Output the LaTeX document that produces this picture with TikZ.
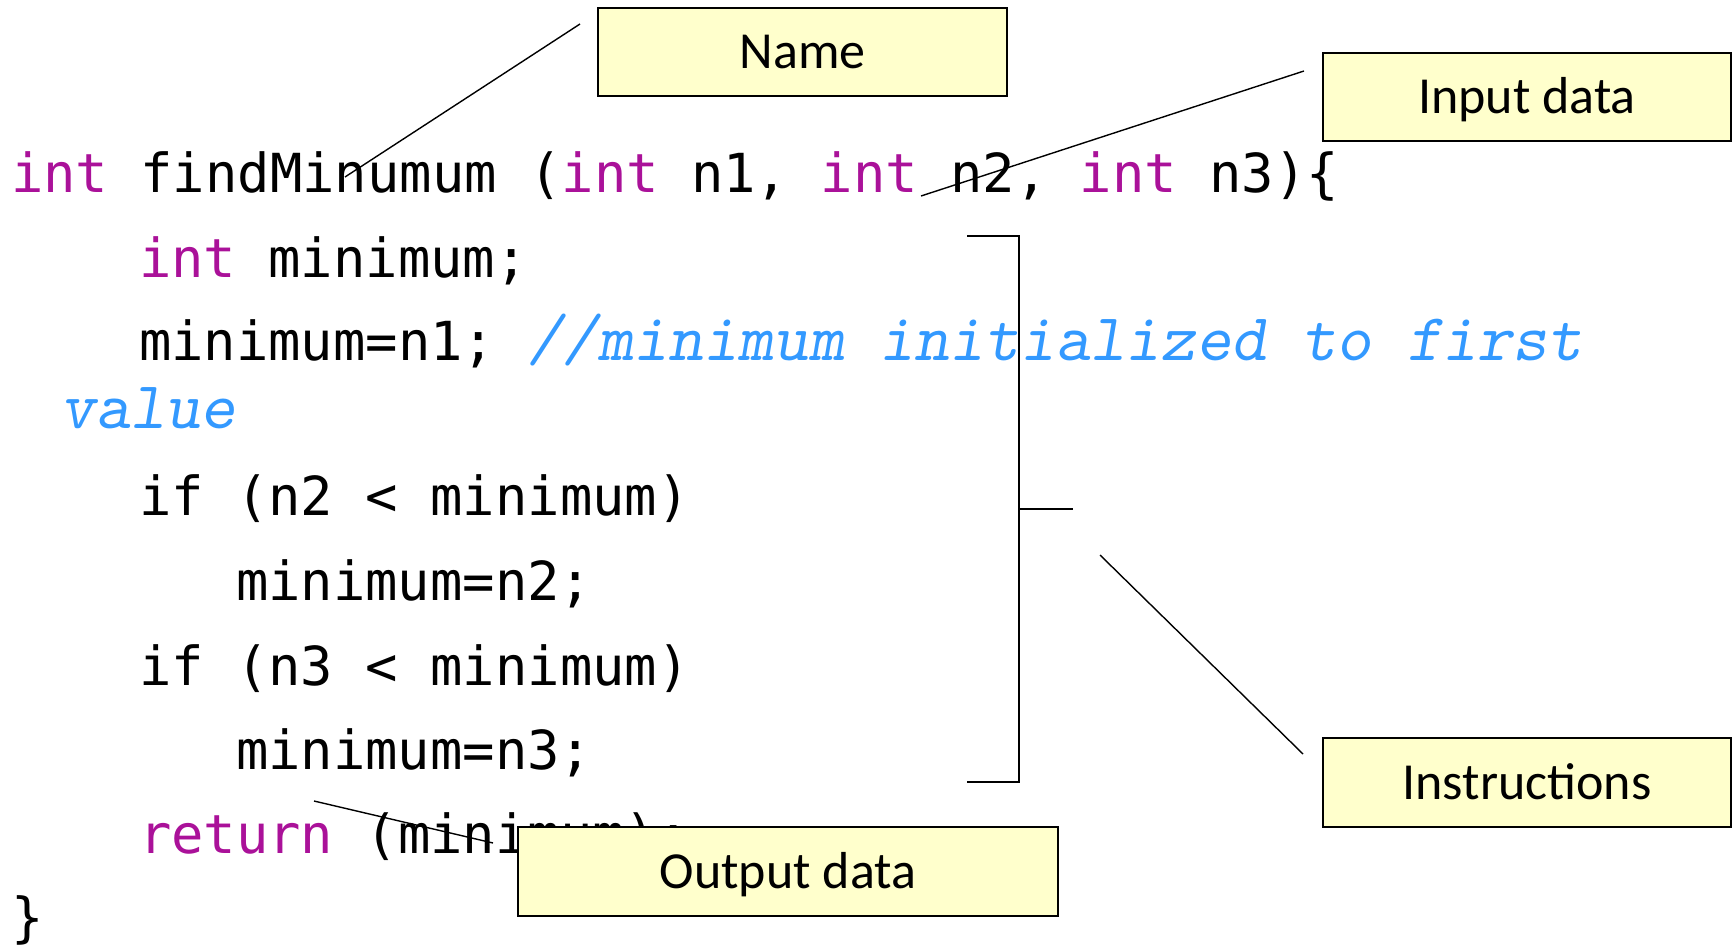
\documentclass[tikz,border=0pt]{standalone}
\usepackage{fontspec}
\newfontfamily\codefont{DejaVu Sans Mono}
\newfontfamily\boxfont{Carlito}
\definecolor{kwcol}{RGB}{170,17,153}
\definecolor{cmtcol}{RGB}{51,153,255}
\definecolor{boxfill}{RGB}{255,255,204}
\newcommand\kwd[1]{\textcolor{kwcol}{#1}}
\newcommand\cmtxt[1]{{\ttfamily\slshape\fontsize{67}{67}\selectfont\color{cmtcol}#1}}
\begin{document}
\begin{tikzpicture}[x=1pt,y=-1pt,
  code/.style={anchor=base west, inner sep=0pt, outer sep=0pt, font=\codefont\fontsize{53.8}{60}\selectfont},
  labelbox/.style={draw, line width=2pt, fill=boxfill, inner sep=0pt,
    text height=33.5pt, text depth=0pt, font=\boxfont\fontsize{52}{60}\selectfont},
  conn/.style={line width=1.4pt},
  brk/.style={line width=2.2pt}]
\useasboundingbox (0,0) rectangle (1735,947);
% code lines
\node[code] (l1) at (11,192) {\kwd{int} findMinumum (\kwd{int} n1, \kwd{int} n2, \kwd{int} n3)\{};
\node[code] (l2) at (139,277) {\kwd{int} minimum;};
\node[code] (l3) at (139,360) {minimum=n1; \cmtxt{//minimum initialized to first}};
\node[code] (l4) at (60,428) {\cmtxt{value}};
\node[code] (l5) at (139,515) {if (n2 < minimum)};
\node[code] (l6) at (236,600) {minimum=n2;};
\node[code] (l7) at (139,685) {if (n3 < minimum)};
\node[code] (l8) at (236,769) {minimum=n3;};
\node[code] (l9) at (139,853) {\kwd{return} (minimum);};
\node[code] (l10) at (11,936) {\}};
% bracket
\coordinate (bt) at (967,236);
\coordinate (bb) at (967,782);
\coordinate (btick) at (1073,509);
\draw[brk] (bt) -- (1019,236) -- (1019,782) -- (bb);
\draw[brk] (1019,509) -- (btick);
% connector end points
\coordinate (nameA) at (580,24);
\coordinate (nameB) at (345,177);
\coordinate (inA) at (1304,71);
\coordinate (inB) at (921,196);
\coordinate (insA) at (1303,754);
\coordinate (insB) at (1100,555);
\coordinate (outA) at (314,801);
\coordinate (outB) at (493,843);
\draw[conn] (nameA) -- (nameB);
\draw[conn] (inA) -- (inB);
\draw[conn] (insA) -- (insB);
\draw[conn] (outA) -- (outB);
% label boxes
\node[labelbox, minimum width=409pt, minimum height=88pt] (name) at (802.5,52) {Name};
\node[labelbox, minimum width=408pt, minimum height=88pt] (input) at (1527,97) {Input data};
\node[labelbox, minimum width=408pt, minimum height=89pt] (instr) at (1527,782.5) {Instructions};
\node[labelbox, minimum width=540pt, minimum height=89pt] (output) at (788,871.5) {Output data};
\end{tikzpicture}
\end{document}
